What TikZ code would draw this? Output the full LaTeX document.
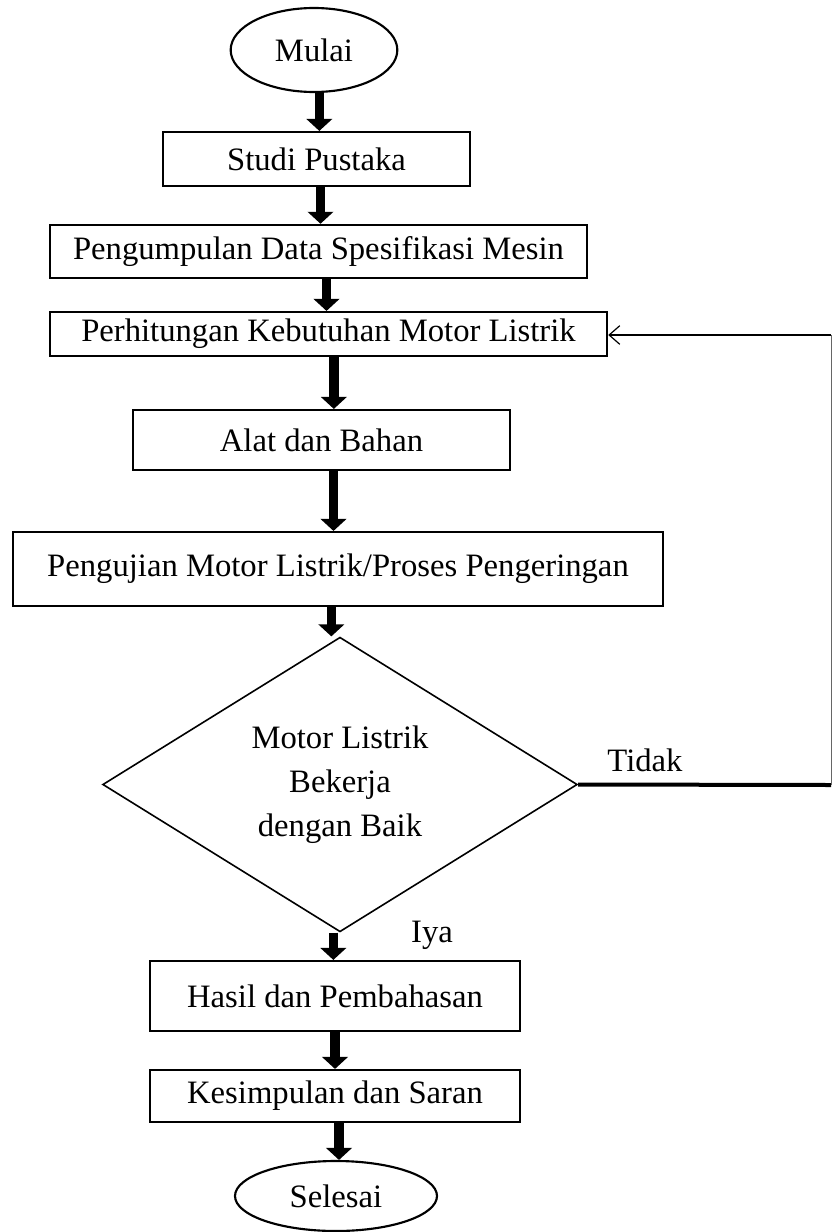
\documentclass[tikz,border=0pt]{standalone}
\usepackage{fontspec}
\setmainfont{Liberation Serif}
\usetikzlibrary{shapes.geometric,arrows.meta}
\begin{document}
\begin{tikzpicture}[x=0.75pt,y=-0.75pt,
  every node/.style={font=\fontsize{24.5}{29}\selectfont},
  box/.style={draw,line width=1.6pt,rectangle,inner sep=0pt},
  oval/.style={draw,line width=1.6pt,ellipse,inner sep=0pt},
  flow/.style={line width=7pt,-{Triangle[width=19pt,length=9pt]}},
  back/.style={line width=0.6pt,draw=black!60},
  backarrow/.style={line width=0.9pt,draw=black,-{Straight Barb[length=8pt,width=14pt]}}]
\useasboundingbox (0,0) rectangle (833,1232);
\node[oval,minimum width=125pt,minimum height=63pt] (mulai) at (314,50) {Mulai};
\node[box,minimum width=230pt,minimum height=40.5pt] (studi) at (316.5,159) {Studi Pustaka};
\node[box,minimum width=403pt,minimum height=40pt] (kumpul) at (318.5,251.5) {Pengumpulan Data Spesifikasi Mesin};
\node[box,minimum width=418pt,minimum height=33pt] (hitung) at (328.5,334) {Perhitungan Kebutuhan Motor Listrik};
\node[box,minimum width=283pt,minimum height=45pt] (alat) at (321.5,440) {Alat dan Bahan};
\node[box,minimum width=487.5pt,minimum height=55.5pt] (uji) at (338,569) {Pengujian Motor Listrik/Proses Pengeringan};
\node[draw,line width=1.2pt,diamond,inner sep=0pt,minimum width=356pt,minimum height=213pt,align=center] (cek) at (340,784.5) {Motor Listrik\\[4pt]Bekerja\\[4pt]dengan Baik};
\node[box,minimum width=277.5pt,minimum height=52.5pt] (hasil) at (335,996) {Hasil dan Pembahasan};
\node[box,minimum width=277.5pt,minimum height=39pt] (simpul) at (335,1096) {Kesimpulan dan Saran};
\node[oval,minimum width=151.5pt,minimum height=52.5pt] (selesai) at (336,1196) {Selesai};
\node (tidak) at (645,760) {Tidak};
\node (iya) at (432,935) {Iya};
\coordinate (c1) at (831,785);
\coordinate (c2) at (831,335);
\draw[flow] ([xshift=4pt]mulai.south) -- ([xshift=4pt]mulai.south |- studi.north);
\draw[flow] ([xshift=3pt]studi.south) -- ([xshift=3pt]studi.south |- kumpul.north);
\draw[flow] ([xshift=6pt]kumpul.south) -- ([xshift=6pt]kumpul.south |- hitung.north);
\draw[flow] ([xshift=4pt]hitung.south) -- ([xshift=4pt]hitung.south |- alat.north);
\draw[flow] ([xshift=9pt]alat.south) -- ([xshift=9pt]alat.south |- uji.north);
\draw[flow] ([xshift=-5pt]uji.south) -- ([xshift=-5pt]uji.south |- cek.north);
\draw[flow] ([xshift=-5pt]cek.south) -- ([xshift=-5pt]cek.south |- hasil.north);
\draw[flow] (hasil.south) -- (hasil.south |- simpul.north);
\draw[flow] ([xshift=3pt]simpul.south) -- ([xshift=3pt]simpul.south |- selesai.north);
\draw[line width=3pt] (cek.east) -- (c1);
\draw[back] (c1) -- (c2);
\draw[backarrow] (c2) -- (hitung.east |- c2);
\end{tikzpicture}
\end{document}
